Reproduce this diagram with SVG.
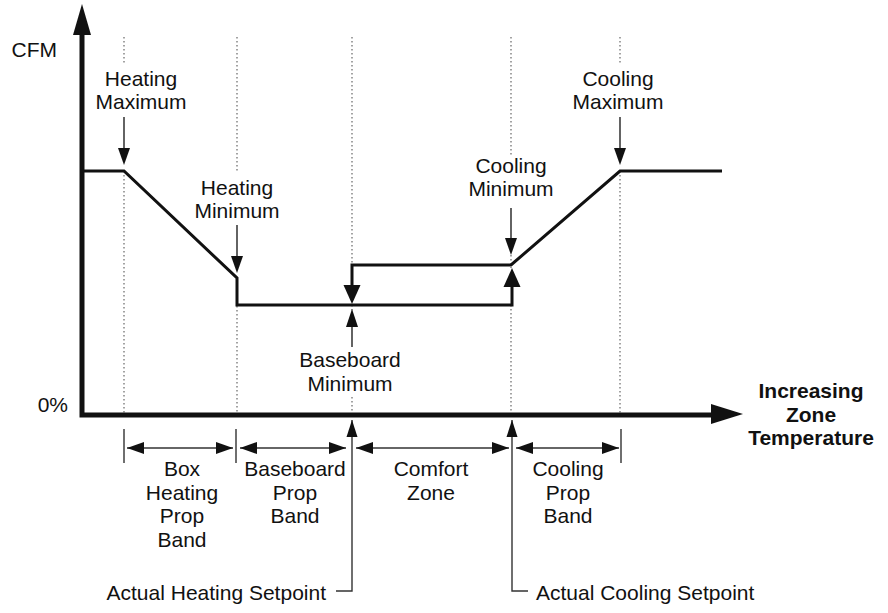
<svg xmlns="http://www.w3.org/2000/svg" width="888" height="613" viewBox="0 0 888 613">
<style>
text{font-family:"Liberation Sans",Arial,sans-serif;font-size:21px;fill:#111}
.c{text-anchor:middle}
.b{font-weight:bold}
.dot{stroke:#666;stroke-width:1.2;stroke-dasharray:1.5 2.5;fill:none}
.thin{stroke:#222;stroke-width:1.4;fill:none}
.dim{stroke:#333;stroke-width:1.4;fill:none}
.curve{stroke:#111;stroke-width:3;fill:none;stroke-linejoin:miter}
.axis{stroke:#111;stroke-width:5;fill:none}
.head{fill:#111}
</style>
<defs>
<marker id="ah" markerUnits="userSpaceOnUse" markerWidth="18" markerHeight="12" refX="17" refY="6" orient="auto-start-reverse"><path d="M0,0 L17,6 L0,12 Z" fill="#111"/></marker>
<marker id="ahs" markerUnits="userSpaceOnUse" markerWidth="18" markerHeight="12" refX="17" refY="6" orient="auto"><path d="M0,0.5 L17,6 L0,11.5 Z" fill="#111"/></marker>
</defs>

<g id="guides">
<path class="dot" d="M124,37 V63 M124,171 V413"/>
<path class="dot" d="M237,37 V172 M237,278 V413"/>
<path class="dot" d="M352,37 V265 M352,305 V327 M352,397 V413"/>
<path class="dot" d="M511,37 V155 M511,255 V268 M511,305 V413"/>
<path class="dot" d="M620,37 V63 M620,171 V413"/>
</g>

<g id="axes">
<path class="axis" d="M82,33 V415 H713"/>
<polygon class="head" points="82,4 73,35 91,35"/>
<polygon class="head" points="743,414 711,404 711,424"/>
<text x="57" y="57" text-anchor="end">CFM</text>
<text x="68" y="412" text-anchor="end">0%</text>
<g id="xlabel">
<text class="c b" x="811" y="398">Increasing</text>
<text class="c b" x="811" y="422">Zone</text>
<text class="c b" x="811" y="445">Temperature</text>
</g>
</g>

<g id="curve">
<path class="curve" d="M82,171 H124 L237,278 V305 H512 V285"/>
<path class="curve" d="M352,286 V265 H511 L620,171 H722"/>
<polygon class="head" points="343.5,285 360.5,285 352,304"/>
<polygon class="head" points="503.5,287 520.5,287 512,268"/>
</g>

<g id="heating-maximum">
<text class="c" x="141" y="86">Heating</text>
<text class="c" x="141" y="109">Maximum</text>
<path class="thin" d="M124,117 V150"/>
<polygon class="head" points="118,148 130,148 124,165"/>
</g>

<g id="heating-minimum">
<text class="c" x="237" y="195">Heating</text>
<text class="c" x="237" y="218">Minimum</text>
<path class="thin" d="M237,225 V258"/>
<polygon class="head" points="231,256 243,256 237,273"/>
</g>

<g id="cooling-minimum">
<text class="c" x="511" y="173">Cooling</text>
<text class="c" x="511" y="196">Minimum</text>
<path class="thin" d="M511,208 V240"/>
<polygon class="head" points="505,238 517,238 511,255"/>
</g>

<g id="cooling-maximum">
<text class="c" x="618" y="86">Cooling</text>
<text class="c" x="618" y="109">Maximum</text>
<path class="thin" d="M620,117 V150"/>
<polygon class="head" points="614,148 626,148 620,165"/>
</g>

<g id="baseboard-minimum">
<path class="thin" d="M352,325 V347"/>
<polygon class="head" points="346,327 358,327 352,309"/>
<text class="c" x="350" y="367">Baseboard</text>
<text class="c" x="350" y="391">Minimum</text>
</g>

<g id="connectors">
<path class="dim" d="M124,429 V463 M236,429 V463 M621,429 V463"/>
<line class="dim" x1="127" y1="448" x2="233" y2="448" marker-start="url(#ah)" marker-end="url(#ah)"/>
<line class="dim" x1="240" y1="448" x2="346" y2="448" marker-start="url(#ah)" marker-end="url(#ah)"/>
<line class="dim" x1="356" y1="448" x2="509" y2="448" marker-start="url(#ah)" marker-end="url(#ah)"/>
<line class="dim" x1="516" y1="448" x2="619" y2="448" marker-start="url(#ah)" marker-end="url(#ah)"/>
<path class="dim" d="M336,591 H352 V420" marker-end="url(#ahs)"/>
<path class="dim" d="M528,591 H512 V420" marker-end="url(#ahs)"/>
</g>

<g id="box-heating-prop-band">
<text class="c" x="182" y="476">Box</text>
<text class="c" x="182" y="500">Heating</text>
<text class="c" x="182" y="523">Prop</text>
<text class="c" x="182" y="547">Band</text>
</g>
<g id="baseboard-prop-band">
<text class="c" x="295" y="476">Baseboard</text>
<text class="c" x="295" y="500">Prop</text>
<text class="c" x="295" y="523">Band</text>
</g>
<g id="comfort-zone">
<text class="c" x="431" y="476">Comfort</text>
<text class="c" x="431" y="500">Zone</text>
</g>
<g id="cooling-prop-band">
<text class="c" x="568" y="476">Cooling</text>
<text class="c" x="568" y="500">Prop</text>
<text class="c" x="568" y="523">Band</text>
</g>
<g id="setpoints">
<text x="326" y="600" text-anchor="end">Actual Heating Setpoint</text>
<text x="536" y="600">Actual Cooling Setpoint</text>
</g>
</svg>
